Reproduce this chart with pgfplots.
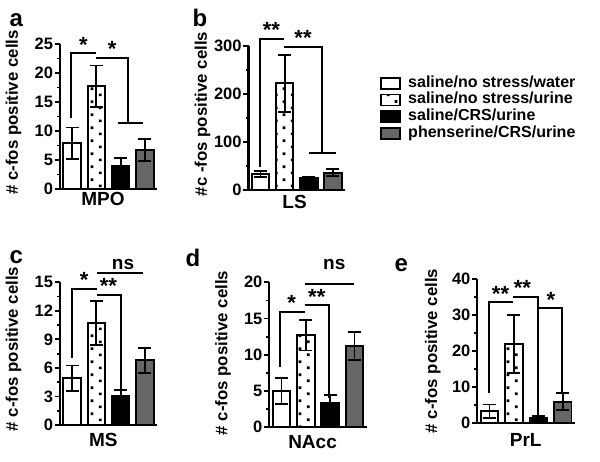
\documentclass[border=0pt]{standalone}
\usepackage{pgfplots}
\pgfplotsset{compat=1.18}
\usepackage{fontspec}
\setmainfont{Liberation Sans}
\usetikzlibrary{patterns}

\definecolor{barGray}{rgb}{0.40,0.40,0.40}
\newcommand\ft[1]{\fontsize{#1bp}{#1bp}\selectfont\bfseries}

% sparse dots like the GraphPad fill
\pgfdeclarepatternformonly{sparsedots}{\pgfpointorigin}{\pgfpoint{16bp}{13bp}}{\pgfpoint{16bp}{13bp}}{%
  \pgfpathrectangle{\pgfpoint{3bp}{2bp}}{\pgfpoint{2.8bp}{2.8bp}}%
  \pgfpathrectangle{\pgfpoint{11bp}{8.5bp}}{\pgfpoint{2.8bp}{2.8bp}}%
  \pgfusepath{fill}}

\tikzset{
  brk/.style={line width=2bp, black},
  star/.style={anchor=base, inner sep=0pt, font=\ft{22}, yshift=1bp},
  ns/.style={anchor=base, inner sep=0pt, font=\ft{19}},
}
\pgfplotsset{
  panel/.style={
    scale only axis, anchor=south west, clip=false,
    axis x line=bottom, axis y line=left,
    axis line style={line width=2.2bp, -},
    xmin=0.5, xmax=4.5, ymin=0, xtick=\empty,
    tick align=outside, major tick length=5.5bp, minor tick length=3bp,
    minor y tick num=1,
    every tick/.append style={line width=1.8bp, black},
    yticklabel style={font=\ft{16.5}, inner sep=1.2bp},
    /pgf/number format/assume math mode=true,
    ylabel style={font=\ft{16.8}, rotate=0, anchor=center},
    xlabel style={font=\ft{19}, anchor=north, inner sep=0pt},
    ybar, bar width=17.5bp, bar shift=0pt,
    every axis plot/.append style={draw=black, line width=1.9bp,
      error bars/y dir=both, error bars/y explicit,
      error bars/error bar style={line width=1.8bp, black, solid},
      error bars/error mark options={rotate=90, mark size=6.5bp, line width=1.8bp, black}},
  },
}

\begin{document}
\begin{tikzpicture}
\path[use as bounding box] (0,0) rectangle (600bp,-462bp);

\node[anchor=base west, font=\ft{24}] at (6bp,-26.7bp) {a};
\node[anchor=base west, font=\ft{24}] at (189bp,-26.7bp) {b};
\node[anchor=base west, font=\ft{24}] at (6bp,-263.3bp) {c};
\node[anchor=base west, font=\ft{24}] at (182bp,-266.7bp) {d};
\node[anchor=base west, font=\ft{24}] at (391bp,-271.7bp) {e};

% ---- a: MPO
\begin{axis}[panel, at={(60bp,-189bp)}, width=97bp, height=145bp,
  ymax=25, ytick={0,5,...,25},
  xlabel={MPO}, xlabel style={at={(axis description cs:0.443,0)}, yshift=-3bp},
  ylabel={\# c-fos positive cells}, ylabel style={at={(axis description cs:-0.48,0.528)}}]
\addplot[fill=white] coordinates {(1,7.9) +- (0,2.7)};
\addplot[pattern=sparsedots] coordinates {(2,17.7) +- (0,3.6)};
\addplot[fill=black] coordinates {(3,4.0) +- (0,1.4)};
\addplot[fill=barGray] coordinates {(4,6.7) +- (0,1.9)};
\draw[brk] (axis cs:0.95,12.2) |- (axis cs:2.0,23.4);
\node[star] at (axis cs:1.47,23.4) {*};
\draw[brk] (axis cs:2.0,22.6) -| (axis cs:3.3,11.4);
\draw[brk] (axis cs:2.89,11.4) -- (axis cs:3.92,11.4);
\node[star] at (axis cs:2.65,22.6) {*};
\end{axis}

% ---- b: LS (carries the legend)
\begin{axis}[panel, at={(248.5bp,-190bp)}, width=96.5bp, height=144bp,
  ymax=300, ytick={0,100,200,300},
  xlabel={LS}, xlabel style={at={(axis description cs:0.477,0)}, yshift=-5bp},
  ylabel={\#c -fos positive cells}, ylabel style={at={(axis description cs:-0.477,0.528)}},
  legend image code/.code={\draw[#1, line width=1.8bp] (0bp,-5.5bp) rectangle (19bp,5.5bp);},
  legend style={draw=none, fill=none, at={(axis description cs:1.36,0.80)}, anchor=north west,
    font=\ft{16}, inner sep=0pt, row sep=0pt,
    nodes={inner sep=1.5bp, text height=10.5bp, text depth=3.2bp},
    /tikz/every odd column/.append style={column sep=6bp}},
  legend cell align=left]
\addplot[fill=white] coordinates {(1,33) +- (0,6)};
\addplot[pattern=sparsedots] coordinates {(2,222) +- (0,59)};
\addplot[fill=black] coordinates {(3,25) +- (0,2)};
\addplot[fill=barGray] coordinates {(4,36) +- (0,7)};
\draw[brk] (axis cs:0.98,48.5) |- (axis cs:1.99,314.6);
\node[star] at (axis cs:1.45,314.6) {**};
\draw[brk] (axis cs:1.99,298.5) -| (axis cs:3.54,77.7);
\draw[brk] (axis cs:3.01,77.7) -- (axis cs:4.12,77.7);
\node[star] at (axis cs:2.76,298.5) {**};
\legend{saline/no stress/water, saline/no stress/urine, saline/CRS/urine, phenserine/CRS/urine}
\end{axis}

% ---- c: MS
\begin{axis}[panel, at={(60bp,-425bp)}, width=97bp, height=142.7bp,
  ymax=15, ytick={0,3,...,15},
  xlabel={MS}, xlabel style={at={(axis description cs:0.446,0)}, yshift=-8bp},
  ylabel={\# c-fos positive cells}, ylabel style={at={(axis description cs:-0.48,0.533)}}]
\addplot[fill=white] coordinates {(1,4.9) +- (0,1.35)};
\addplot[pattern=sparsedots] coordinates {(2,10.7) +- (0,2.3)};
\addplot[fill=black] coordinates {(3,3.1) +- (0,0.6)};
\addplot[fill=barGray] coordinates {(4,6.8) +- (0,1.3)};
\draw[brk] (axis cs:0.98,7.0) |- (axis cs:2.01,14.3);
\node[star] at (axis cs:1.5,14.3) {*};
\draw[brk] (axis cs:2.01,13.67) -| (axis cs:3.0,3.7);
\node[star] at (axis cs:2.5,13.67) {**};
\draw[brk] (axis cs:2.04,16.0) -- (axis cs:3.93,16.0);
\node[ns] at (axis cs:3.1,16.35) {ns};
\end{axis}

% ---- d: NAcc
\begin{axis}[panel, at={(269.3bp,-427.3bp)}, width=97.4bp, height=145bp,
  ymax=20, ytick={0,5,...,20},
  xlabel={NAcc}, xlabel style={at={(axis description cs:0.444,0)}, yshift=-8.4bp},
  ylabel={\# c-fos positive cells}, ylabel style={at={(axis description cs:-0.476,0.512)}}]
\addplot[fill=white] coordinates {(1,5.0) +- (0,1.75)};
\addplot[pattern=sparsedots] coordinates {(2,12.7) +- (0,2.1)};
\addplot[fill=black] coordinates {(3,3.3) +- (0,1.2)};
\addplot[fill=barGray] coordinates {(4,11.2) +- (0,1.95)};
\draw[brk] (axis cs:0.95,8.36) |- (axis cs:1.95,15.94);
\node[star] at (axis cs:1.42,15.94) {*};
\draw[brk] (axis cs:1.95,16.83) -| (axis cs:2.96,4.0);
\node[star] at (axis cs:2.45,16.83) {**};
\draw[brk] (axis cs:1.97,19.77) -- (axis cs:3.99,19.77);
\node[ns] at (axis cs:3.17,21.8) {ns};
\end{axis}

% ---- e: PrL
\begin{axis}[panel, at={(477.3bp,-423.3bp)}, width=97.7bp, height=144bp,
  ymax=40, ytick={0,10,...,40},
  xlabel={PrL}, xlabel style={at={(axis description cs:0.496,0)}, yshift=-10bp},
  ylabel={\# c-fos positive cells}, ylabel style={at={(axis description cs:-0.455,0.503)}}]
\addplot[fill=white] coordinates {(1,3.3) +- (0,1.9)};
\addplot[pattern=sparsedots] coordinates {(2,22) +- (0,8)};
\addplot[fill=black] coordinates {(3,1.6) +- (0,0.4)};
\addplot[fill=barGray] coordinates {(4,6.0) +- (0,2.4)};
\draw[brk] (axis cs:0.99,8.33) |- (axis cs:1.98,33.6);
\node[star] at (axis cs:1.45,33.6) {**};
\draw[brk] (axis cs:1.98,35.2) -| (axis cs:2.98,2.3);
\node[star] at (axis cs:2.35,35.2) {**};
\draw[brk] (axis cs:2.98,31.9) -| (axis cs:3.96,8.33);
\node[star] at (axis cs:3.51,31.9) {*};
\end{axis}
\end{tikzpicture}
\end{document}
